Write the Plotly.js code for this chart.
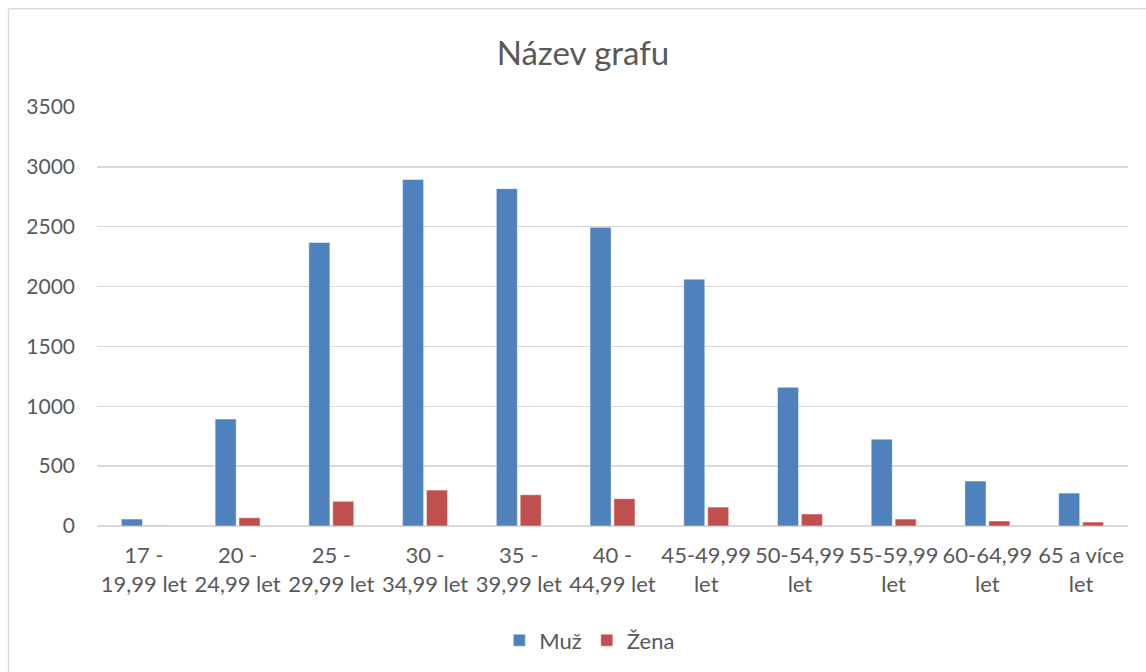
<!DOCTYPE html>
<html>
<head>
<meta charset="utf-8">
<script src="https://cdn.plot.ly/plotly-3.0.1.min.js"></script>
<style>html,body{margin:0;padding:0;background:#fff;}#chart{width:1146px;height:672px;}</style>
</head>
<body>
<div id="chart"></div>
<script>
const categories = ["17 -<br>19,99 let","20 -<br>24,99 let","25 -<br>29,99 let","30 -<br>34,99 let","35 -<br>39,99 let","40 -<br>44,99 let","45-49,99<br>let","50-54,99<br>let","55-59,99<br>let","60-64,99<br>let","65 a více<br>let"];
const muz = [58, 893, 2368, 2895, 2818, 2495, 2062, 1158, 725, 375, 275];
const zena = [5, 69, 206, 300, 261, 228, 158, 100, 58, 42, 33];
const seriesNames = ["Muž", "Žena"];
const yTicks = [0, 500, 1000, 1500, 2000, 2500, 3000, 3500];

const font = "Lato, 'Open Sans', sans-serif";
const txt = "#595959";

const traces = [
  {type:"bar", name:seriesNames[0], x:categories, y:muz,
   marker:{color:"#4F81BD", line:{color:"rgba(255,255,255,0.45)", width:1}}, hoverinfo:"y"},
  {type:"bar", name:seriesNames[1], x:categories, y:zena,
   marker:{color:"#C0504D", line:{color:"rgba(255,255,255,0.45)", width:1}}, hoverinfo:"y"}
];

const layout = {
  width:1146, height:672,
  margin:{l:97, r:18, t:107, b:145},
  paper_bgcolor:"#fff", plot_bgcolor:"#fff",
  font:{family:font, color:txt, size:21},
  title:{text:"Název grafu", font:{family:font, size:33, color:txt}, x:583/1146, xanchor:"center", xref:"container", y:1-53/672, yanchor:"middle"},
  barmode:"group", bargap:0.49, bargroupgap:0.12,
  xaxis:{type:"category", tickfont:{family:font, size:22, color:txt}, showgrid:false, zeroline:false, showline:false, ticks:"", ticklabelstandoff:14},
  yaxis:{range:[0,3500], tickvals:yTicks, ticktext:yTicks.map(String), tickfont:{family:font, size:21, color:txt}, showgrid:true, gridcolor:"#d9d9d9", gridwidth:1.3, zeroline:true, zerolinecolor:"#d9d9d9", zerolinewidth:1.3, showline:false, ticks:"", ticklabelstandoff:21, fixedrange:true},
  showlegend:true,
  legend:{orientation:"h", x:0.478, xanchor:"center", y:-0.27, yanchor:"middle", font:{family:font, size:22, color:txt}, itemwidth:30, tracegroupgap:0, traceorder:"normal"},
  shapes:[
    {type:"line", xref:"paper", yref:"paper", x0:(8.5-97)/1031, x1:(8.5-97)/1031, y0:1+(107-8.5)/420, y1:-2, line:{color:"#d9d9d9", width:1.3}},
    {type:"line", xref:"paper", yref:"paper", x0:(8.5-97)/1031, x1:3, y0:1+(107-8.5)/420, y1:1+(107-8.5)/420, line:{color:"#d9d9d9", width:1.3}}
  ]
};

Plotly.newPlot("chart", traces, layout, {displayModeBar:false, staticPlot:true});
</script>
</body>
</html>
